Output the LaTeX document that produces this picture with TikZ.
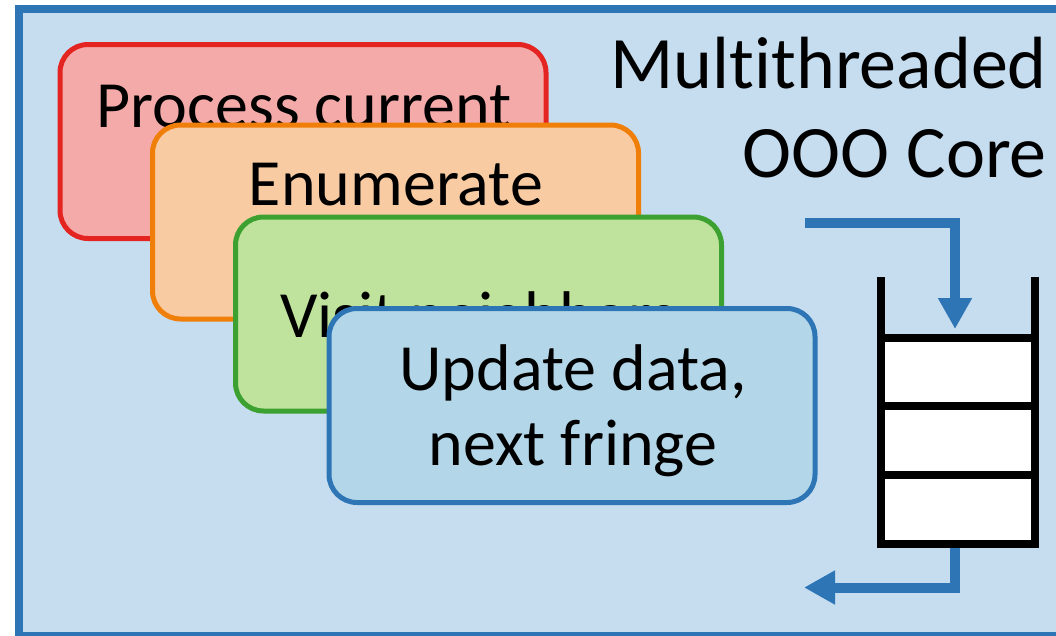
\documentclass[tikz,border=0pt]{standalone}
\usepackage{fontspec}
\setmainfont{Carlito}[Ligatures={NoCommon}]
\usetikzlibrary{arrows.meta}

\definecolor{frameblue}{HTML}{2E75B6}
\definecolor{panel}{HTML}{C6DDF0}
\definecolor{redline}{HTML}{E42421}
\definecolor{redfill}{HTML}{F5AAAA}
\definecolor{orangeline}{HTML}{F07F0A}
\definecolor{orangefill}{HTML}{F8CBA3}
\definecolor{greenline}{HTML}{3DA132}
\definecolor{greenfill}{HTML}{BFE39C}
\definecolor{bluefill}{HTML}{B3D7E8}

\begin{document}
\begin{tikzpicture}[x=1pt,y=-1pt,
  stage/.style={rectangle, rounded corners=28pt, line width=5pt,
    minimum width=486pt, minimum height=194pt, inner sep=0pt},
  stagetext/.style={anchor=base, inner sep=0pt,
    font=\fontsize{66}{79}\selectfont},
  titletext/.style={anchor=base east, inner sep=0pt,
    font=\fontsize{74}{89}\selectfont},
  queueline/.style={line width=8pt, draw=black},
  flow/.style={line width=10pt, draw=frameblue, line join=miter,
    -{Triangle[length=31pt,width=32pt]}}
]
\useasboundingbox (0,0) rectangle (1056,635);
\clip (0,0) rectangle (1056,635);
\fill[white] (0,0) rectangle (1056,635);

% core panel
\draw[line width=8pt, draw=frameblue, fill=panel] (19,9) rectangle (1064,636);

% pipeline stages, back to front
\node[stage, draw=redline, fill=redfill] (s1) at (303,141.5) {};
\node[stagetext] (t1) at (304,127) {Process current};

\node[stage, draw=orangeline, fill=orangefill] (s2) at (395.5,222) {};
\node[stagetext] (t2) at (396,205) {Enumerate};

\node[stage, draw=greenline, fill=greenfill] (s3) at (478.5,314) {};
\node[stagetext] (t3) at (478.5,337) {Visit neighbors};

\node[stage, draw=frameblue, fill=bluefill] (s4) at (572,405.5) {};
\node[stagetext] (t4a) at (573,390) {Update data,};
\node[stagetext] (t4b) at (573,465) {next fringe};

% title
\node[titletext] (c1) at (1047,88) {Multithreaded};
\node[titletext] (c2) at (1047,177) {OOO Core};

% queue
\fill[white] (881,337.5) rectangle (1035,544);
\draw[queueline, line join=miter] (881,277) -- (881,544) -- (1035,544) -- (1035,277);
\draw[queueline] (881,337.5) -- (1035,337.5);
\draw[queueline] (881,406) -- (1035,406);
\draw[queueline] (881,474.5) -- (1035,474.5);

\coordinate (qtop) at (955,329);
\coordinate (qbot) at (955,548);
\coordinate (inflow) at (805,223);
\coordinate (outflow) at (804,587.5);

% flow into and out of the queue
\draw[flow] (inflow) -| (qtop);
\draw[flow] (qbot) |- (outflow);
\end{tikzpicture}
\end{document}
